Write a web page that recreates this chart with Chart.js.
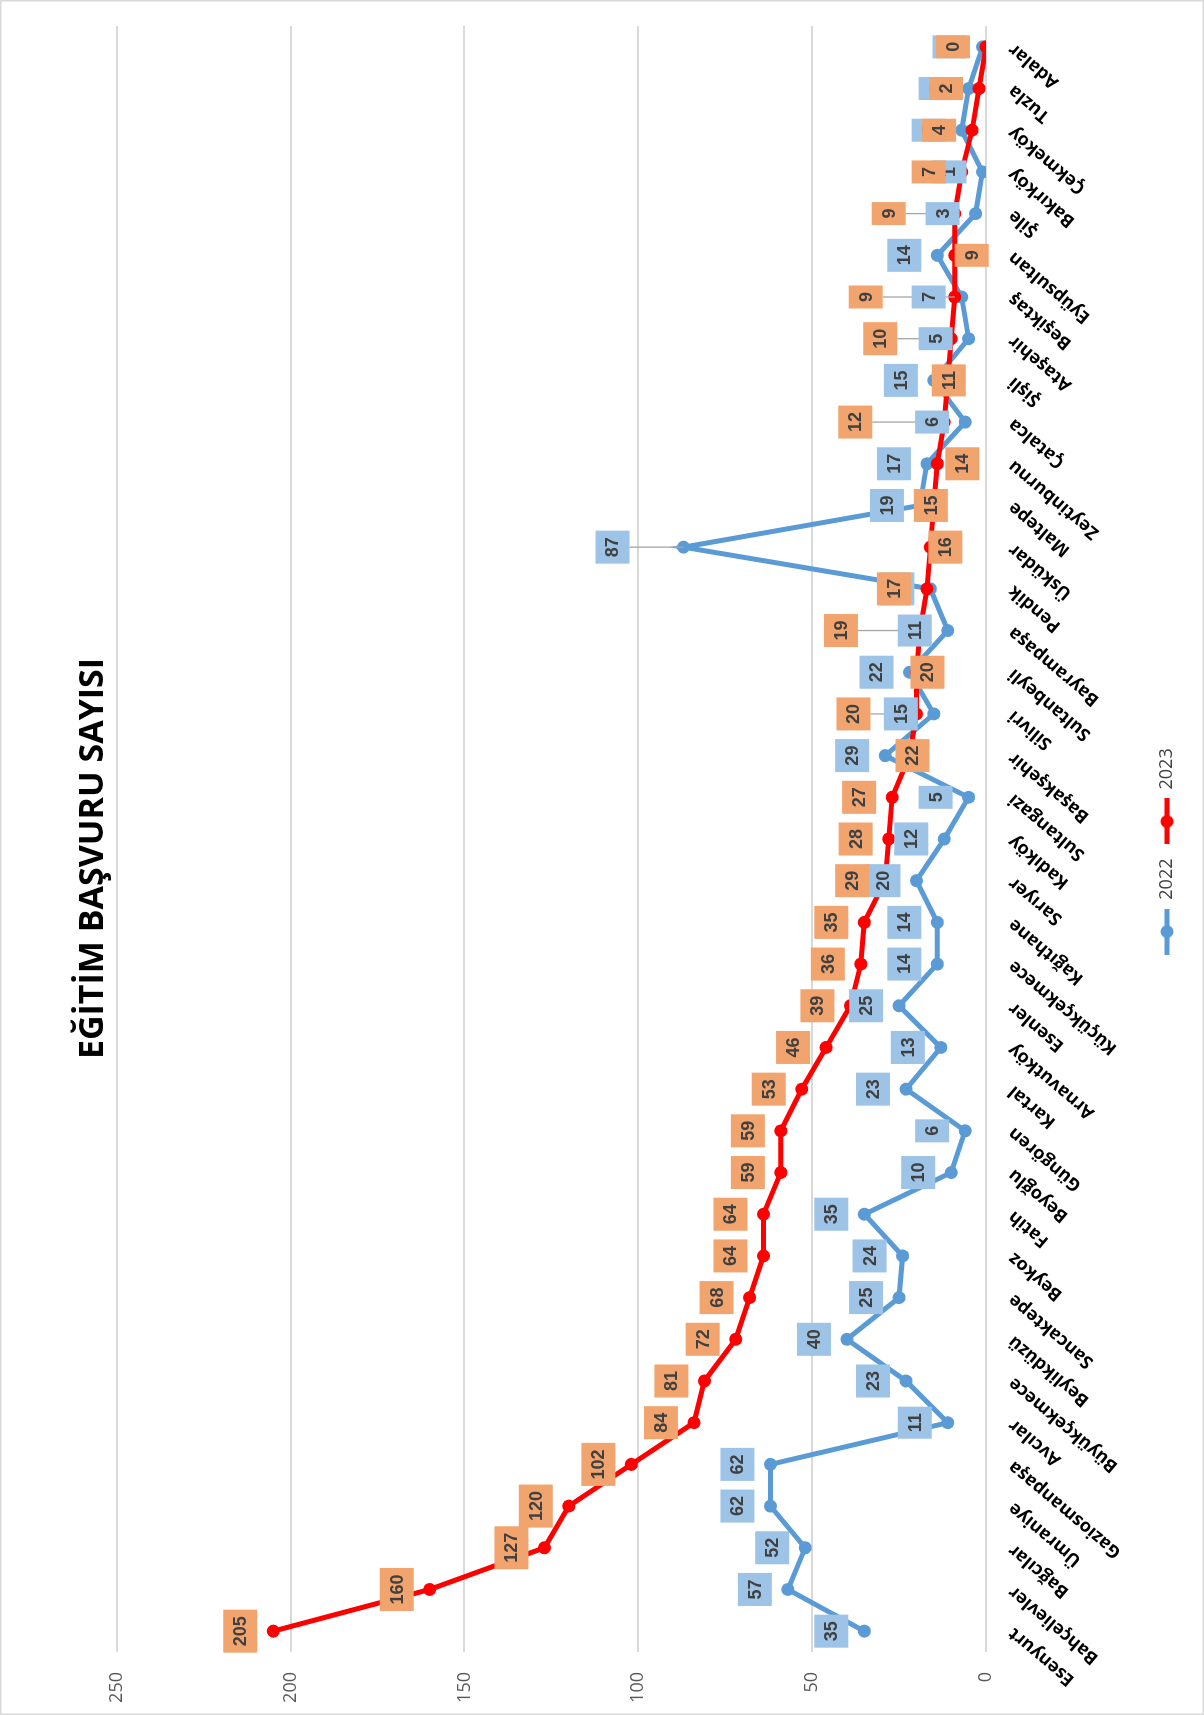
<!DOCTYPE html>
<html>
<head>
<meta charset="utf-8">
<script src="https://cdn.jsdelivr.net/npm/chart.js@4.4.1/dist/chart.umd.min.js"></script>
<style>
  html, body { margin: 0; padding: 0; background: #fff; }
  body { width: 1204px; height: 1715px; overflow: hidden; position: relative; }
  /* the chart is drawn landscape and turned a quarter turn to the left */
  #wrap { position: absolute; left: 0; top: 0; width: 1715px; height: 1204px;
          transform-origin: 0 0; transform: translateY(1715px) rotate(-90deg); }
</style>
</head>
<body>
<div id="wrap"><canvas id="chart" width="1715" height="1204"></canvas></div>
<script>
var districts = ['Esenyurt', 'Bahçelievler', 'Bağcılar', 'Ümraniye', 'Gaziosmanpaşa', 'Avcılar',
    'Büyükçekmece', 'Beylikdüzü', 'Sancaktepe', 'Beykoz', 'Fatih', 'Beyoğlu', 'Güngören', 'Kartal',
    'Arnavutköy', 'Esenler', 'Küçükçekmece', 'Kağıthane', 'Sarıyer', 'Kadıköy', 'Sultangazi',
    'Başakşehir', 'Silivri', 'Sultanbeyli', 'Bayrampaşa', 'Pendik', 'Üsküdar', 'Maltepe',
    'Zeytinburnu', 'Çatalca', 'Şişli', 'Ataşehir', 'Beşiktaş', 'Eyüpsultan', 'Şile', 'Bakırköy',
    'Çekmeköy', 'Tuzla', 'Adalar'];
var values2022 = [35, 57, 52, 62, 62, 11, 23, 40, 25, 24, 35, 10, 6, 23, 13, 25, 14, 14, 20, 12,
    5, 29, 15, 22, 11, 16, 87, 19, 17, 6, 15, 5, 7, 14, 3, 1, 7, 5, 1];
var values2023 = [205, 160, 127, 120, 102, 84, 81, 72, 68, 64, 64, 59, 59, 53, 46, 39, 36, 35, 29, 28,
    27, 22, 20, 20, 19, 17, 16, 15, 14, 12, 11, 10, 9, 9, 9, 7, 4, 2, 0];
var valueTicks = [0, 50, 100, 150, 200, 250];

var BLUE = '#5B9BD5';
var RED = '#FF0000';

// line + marker swatch for the legend
function legendSwatch(color) {
    var c = document.createElement('canvas');
    c.width = 46; c.height = 14;
    var g = c.getContext('2d');
    g.strokeStyle = color; g.lineWidth = 5;
    g.beginPath(); g.moveTo(0, 7); g.lineTo(46, 7); g.stroke();
    g.fillStyle = color;
    g.beginPath(); g.arc(23, 7, 6.5, 0, Math.PI * 2); g.fill();
    return c;
}

var background = {
    id: 'background',
    beforeDraw: function(chart) {
        var ctx = chart.ctx;
        ctx.save();
        ctx.fillStyle = '#fff';
        ctx.fillRect(0, 0, chart.width, chart.height);
        ctx.strokeStyle = '#D9D9D9';
        ctx.lineWidth = 1.5;
        ctx.strokeRect(0.75, 0.75, chart.width - 1.5, chart.height - 1.5);
        ctx.restore();
    }
};

// title and legend sit a little off the canvas centre in the original
var nudge = {
    id: 'nudge',
    afterLayout: function(chart, args, opts) {
        [[chart.titleBlock, opts.title], [chart.legend, opts.legend]].forEach(function(p) {
            if (!p[0]) return;
            p[0].left += p[1];
            p[0].right += p[1];
        });
    }
};

// Excel-like value boxes, with leader lines for the ones moved away
var boxLabels = {
    id: 'boxLabels',
    afterDatasetsDraw: function(chart, args, opts) {
        var ctx = chart.ctx;
        var items = [];
        chart.data.datasets.forEach(function(ds, di) {
            var meta = chart.getDatasetMeta(di);
            var shifts = opts.shifts[ds.label] || {};
            meta.data.forEach(function(pt, i) {
                var name = chart.data.labels[i];
                var dy = shifts[name] !== undefined ? shifts[name] : opts.shift;
                items.push({ x: pt.x, y: pt.y, cy: pt.y + dy, text: String(ds.data[i]),
                             fill: opts.fills[ds.label], lead: Math.abs(dy) > 45 });
            });
        });
        ctx.save();
        ctx.font = opts.font;
        ctx.strokeStyle = '#A6A6A6';
        ctx.lineWidth = 1.3;
        items.forEach(function(it) {
            if (!it.lead) return;
            ctx.beginPath();
            ctx.moveTo(it.x, it.cy + (it.cy < it.y ? opts.height / 2 : -opts.height / 2));
            ctx.lineTo(it.x, it.y);
            ctx.stroke();
        });
        ctx.textAlign = 'center';
        ctx.textBaseline = 'middle';
        items.forEach(function(it) {
            var w = ctx.measureText(it.text).width + 2 * opts.padX;
            ctx.fillStyle = it.fill;
            ctx.fillRect(it.x - w / 2, it.cy - opts.height / 2, w, opts.height);
            ctx.fillStyle = '#404040';
            ctx.fillText(it.text, it.x, it.cy + 1);
        });
        ctx.restore();
    }
};

var ctx = document.getElementById('chart').getContext('2d');
var chart = new Chart(ctx, {
    type: 'line',
    data: {
        labels: districts,
        datasets: [{
            label: '2022',
            data: values2022,
            borderColor: BLUE,
            backgroundColor: BLUE,
            borderWidth: 5,
            pointRadius: 6.5,
            pointBorderWidth: 0,
            order: 1
        }, {
            label: '2023',
            data: values2023,
            borderColor: RED,
            backgroundColor: RED,
            borderWidth: 5,
            pointRadius: 6.5,
            pointBorderWidth: 0,
            order: 0
        }]
    },
    options: {
        responsive: false,
        animation: false,
        layout: { padding: { left: 0, right: 26, top: 0, bottom: 18 } },
        plugins: {
            title: {
                display: true,
                text: 'EĞİTİM BAŞVURU SAYISI',
                color: '#000',
                font: { family: 'Open Sans', size: 34, weight: 'bold', lineHeight: 1.2 },
                padding: { top: 73, bottom: 3 }
            },
            legend: {
                position: 'bottom',
                labels: {
                    usePointStyle: true,
                    pointStyleWidth: 46,
                    padding: 14,
                    color: '#404040',
                    font: { family: 'Open Sans', size: 18 },
                    sort: function(a, b) { return a.datasetIndex - b.datasetIndex; },
                    generateLabels: function(chart) {
                        var items = Chart.defaults.plugins.legend.labels.generateLabels(chart);
                        items.forEach(function(it) {
                            it.pointStyle = legendSwatch(it.datasetIndex === 0 ? BLUE : RED);
                        });
                        return items;
                    }
                }
            },
            tooltip: { enabled: false },
            nudge: { title: 12, legend: 19 },
            boxLabels: {
                font: 'bold 18px "Liberation Sans"',
                height: 34,
                padX: 6.5,
                shift: -33,
                fills: { '2022': '#9DC3E6', '2023': '#F2A46E' },
                shifts: {
                    '2022': { 'Üsküdar': -71 },
                    '2023': {
                        'Şile': -66, 'Eyüpsultan': 17, 'Beşiktaş': -89, 'Ataşehir': -71, 'Şişli': 1,
                        'Çatalca': -89, 'Zeytinburnu': 25, 'Maltepe': -3, 'Üsküdar': 15,
                        'Bayrampaşa': -79, 'Sultanbeyli': 11, 'Silivri': -63, 'Başakşehir': 3
                    }
                }
            }
        },
        scales: {
            x: {
                offset: true,
                grid: { display: false },
                border: { display: false },
                ticks: {
                    autoSkip: false,
                    minRotation: 50,
                    maxRotation: 50,
                    padding: 10,
                    color: '#000',
                    font: { family: 'Open Sans', size: 18, weight: 'bold' }
                },
                afterFit: function(scale) { scale.height = 158; }
            },
            y: {
                min: 0,
                max: 250,
                afterBuildTicks: function(scale) {
                    scale.ticks = valueTicks.map(function(v) { return { value: v }; });
                },
                ticks: { padding: 20, color: '#595959', font: { family: 'Open Sans', size: 18 } },
                grid: { color: '#D9D9D9', lineWidth: 2, drawTicks: false },
                border: { display: false },
                afterFit: function(scale) { scale.width = 63; }
            }
        }
    },
    plugins: [background, nudge, boxLabels]
});
</script>
</body>
</html>
